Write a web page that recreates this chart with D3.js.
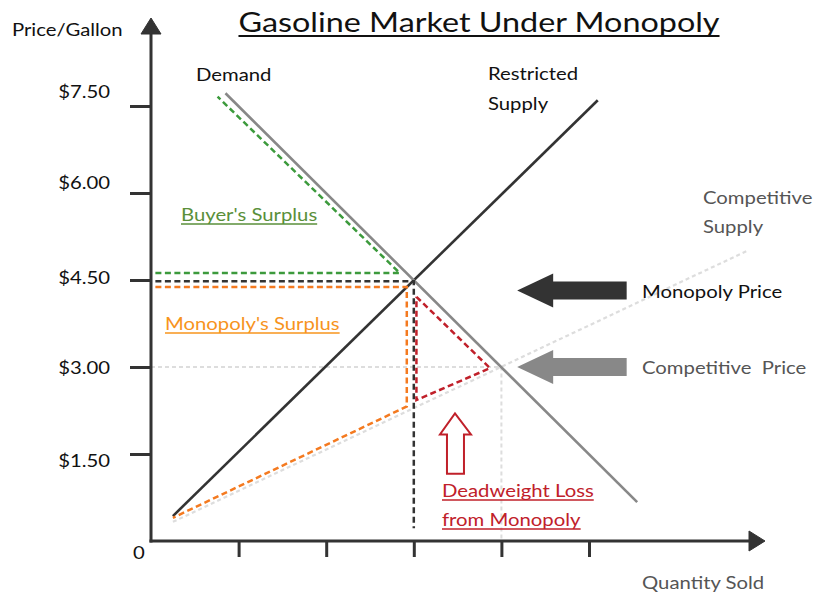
<!doctype html>
<html lang="en">
<head>
    <meta charset="utf-8" />
    <title>Gasoline Market Under Monopoly</title>
    <script src="https://d3js.org/d3.v7.min.js"></script>
    <style>
        body { margin: 0; background: #fff; }
        text { font-family: Lato, "Open Sans", sans-serif; }
    </style>
</head>
<body>
    <div id="chart"></div>
    <script>
        // price ticks on the y axis, quantity ticks on the x axis
        const priceTicks = [1.5, 3, 4.5, 6, 7.5];
        const quantityTicks = [1, 2, 3, 4, 5];

        // curves, as [quantity, price] points
        const demand = [[0.85, 7.72], [5.55, 0.67]];
        const restrictedSupply = [[0.25, 0.43], [5.1, 7.6]];
        const competitiveSupply = [[0.25, 0.33], [6.8, 5.0]];

        // dashed surplus outlines
        const buyerSurplus = [[0.05, 4.62], [2.84, 4.62], [0.76, 7.66]];
        const monopolyLevel = [[0.05, 4.48], [3.0, 4.48], [3.0, 0.22]];
        const monopolySurplus = [[0.05, 4.38], [2.92, 4.38], [2.92, 2.32], [0.25, 0.4]];
        const deadweightLoss = [[3.03, 4.21], [3.87, 2.98], [3.03, 2.43], [3.03, 4.21]];
        const competitiveLevel = [[0, 3.0], [4.0, 3.0], [4.0, 0]];

        // block arrows: tip quantity, tail quantity, price
        const priceArrows = [
            { tip: 4.18, tail: 5.43, price: 4.32, color: "#333" },
            { tip: 4.18, tail: 5.43, price: 3.0, color: "#888" }
        ];
        // upward arrow to the deadweight loss: quantity, tip price, base price
        const lossArrow = { q: 3.47, top: 2.2, bottom: 1.16 };

        const width = 814, height = 595;
        const stretch = 1.16;   // the lettering is drawn a little wide
        const x = d3.scaleLinear().domain([0, 5]).range([151, 589]);
        const y = d3.scaleLinear().domain([0, 7.5]).range([541, 106]);
        const line = d3.line().x(d => x(d[0])).y(d => y(d[1]));

        const svg = d3.select("#chart").append("svg")
            .attr("width", width)
            .attr("height", height);

        // light competitive guides
        svg.append("path").datum(competitiveLevel)
            .attr("d", line).attr("fill", "none")
            .attr("stroke", "#ddd").attr("stroke-width", 2).attr("stroke-dasharray", "4,3");
        svg.append("path").datum(competitiveSupply)
            .attr("d", line).attr("fill", "none")
            .attr("stroke", "#ddd").attr("stroke-width", 2.2).attr("stroke-dasharray", "4,3");

        // supply and demand
        svg.append("path").datum(restrictedSupply)
            .attr("d", line).attr("fill", "none")
            .attr("stroke", "#333").attr("stroke-width", 2.6);
        svg.append("path").datum(demand)
            .attr("d", line).attr("fill", "none")
            .attr("stroke", "#888").attr("stroke-width", 2.6);

        // dashed regions
        const dashed = [
            [buyerSurplus, "#3c9a3c"],
            [monopolySurplus, "#f47a20"],
            [monopolyLevel, "#333"],
            [deadweightLoss, "#c0202a"]
        ];
        dashed.forEach(([pts, col]) => {
            svg.append("path").datum(pts)
                .attr("d", line).attr("fill", "none")
                .attr("stroke", col).attr("stroke-width", 2.5)
                .attr("stroke-dasharray", "6,3.5");
        });

        // axes
        const yAxis = svg.append("g")
            .attr("transform", `translate(${x(0)},0)`)
            .call(d3.axisLeft(y).tickValues(priceTicks).tickSize(21).tickPadding(20)
                .tickFormat(d => "$" + d.toFixed(2)));
        const xAxis = svg.append("g")
            .attr("transform", `translate(0,${y(0)})`)
            .call(d3.axisBottom(x).tickValues(quantityTicks).tickSize(16).tickFormat(""));
        [yAxis, xAxis].forEach(g => {
            g.select(".domain").remove();
            g.selectAll("line").attr("stroke", "#333").attr("stroke-width", 3);
        });
        // the hand-placed price labels sit a little off their ticks
        const labelNudge = { 7.5: -14, 6: -10, 4.5: -2, 3: 1, 1.5: 7 };
        yAxis.selectAll(".tick text")
            .attr("font-size", 17.5).attr("fill", "#111")
            .style("font-family", "Lato, sans-serif")
            .attr("x", -41 / stretch)
            .attr("transform", d => `translate(0,${labelNudge[d] || 0}) scale(${stretch},1)`);

        svg.append("line")
            .attr("x1", x(0)).attr("y1", y(0) + 1.5).attr("x2", x(0)).attr("y2", 32)
            .attr("stroke", "#333").attr("stroke-width", 3);
        svg.append("line")
            .attr("x1", x(0) - 1.5).attr("y1", y(0)).attr("x2", 752).attr("y2", y(0))
            .attr("stroke", "#333").attr("stroke-width", 3);
        svg.append("path")
            .attr("d", `M${x(0)},18 L${x(0) + 10},34 L${x(0) - 10},34 Z`)
            .attr("fill", "#333").attr("stroke", "#333").attr("stroke-linejoin", "round");
        svg.append("path")
            .attr("d", `M765,${y(0)} L749,${y(0) - 10} L749,${y(0) + 10} Z`)
            .attr("fill", "#333").attr("stroke", "#333").attr("stroke-linejoin", "round");

        // block arrows pointing at the price levels
        priceArrows.forEach(a => {
            const tx = x(a.tip), ex = x(a.tail), cy = y(a.price);
            const hx = tx + 36;
            svg.append("path")
                .attr("d", `M${tx},${cy} L${hx},${cy - 17} L${hx},${cy - 9} L${ex},${cy - 9}
                    L${ex},${cy + 9} L${hx},${cy + 9} L${hx},${cy + 17} Z`)
                .attr("fill", a.color);
        });

        // outlined arrow pointing up at the deadweight loss
        {
            const cx = x(lossArrow.q), ty = y(lossArrow.top), by = y(lossArrow.bottom);
            const hy = ty + 21;
            svg.append("path")
                .attr("d", `M${cx},${ty} L${cx + 16},${hy} L${cx + 9},${hy} L${cx + 9},${by}
                    L${cx - 8},${by} L${cx - 8},${hy} L${cx - 15},${hy} Z`)
                .attr("fill", "#fff").attr("stroke", "#c0202a").attr("stroke-width", 2)
                .attr("stroke-linejoin", "miter");
        }

        // text labels
        function label(txt, px, py, opts = {}) {
            const sx = opts.stretch || stretch;
            const g = svg.append("g").attr("transform", `translate(${px},${py})`);
            const t = g.append("text")
                .attr("transform", `scale(${sx},1)`)
                .attr("font-size", opts.size || 17.5)
                .attr("fill", opts.color || "#111")
                .attr("text-anchor", opts.anchor || "start")
                .style("white-space", "pre")
                .text(txt);
            if (opts.underline) {
                const bb = t.node().getBBox();
                const off = opts.uOff || 3;
                g.append("line")
                    .attr("x1", bb.x * sx).attr("x2", (bb.x + bb.width) * sx)
                    .attr("y1", off).attr("y2", off)
                    .attr("stroke", opts.color || "#111")
                    .attr("stroke-width", opts.uWidth || 1.3);
            }
            return t;
        }

        label("Gasoline Market Under Monopoly", 479, 32,
            { size: 26.5, stretch: 1.22, anchor: "middle", underline: true, uOff: 4, uWidth: 2 });
        label("Price/Gallon", 12, 36);
        label("Demand", 196, 81);
        label("Restricted", 488, 80);
        label("Supply", 488, 110);
        label("Competitive", 703, 204, { color: "#555" });
        label("Supply", 703, 233, { color: "#555" });
        label("Buyer's Surplus", 181, 221, { color: "#5a8f3a", underline: true });
        label("Monopoly's Surplus", 165, 330, { color: "#f7941d", underline: true });
        label("Monopoly Price", 642, 298);
        label("Competitive  Price", 642, 374, { color: "#555" });
        label("Deadweight Loss", 442, 497, { color: "#c0202a", underline: true });
        label("from Monopoly", 442, 526, { color: "#c0202a", underline: true });
        label("Quantity Sold", 642, 589, { color: "#555" });
        label("0", 133, 559);
    </script>
</body>
</html>
